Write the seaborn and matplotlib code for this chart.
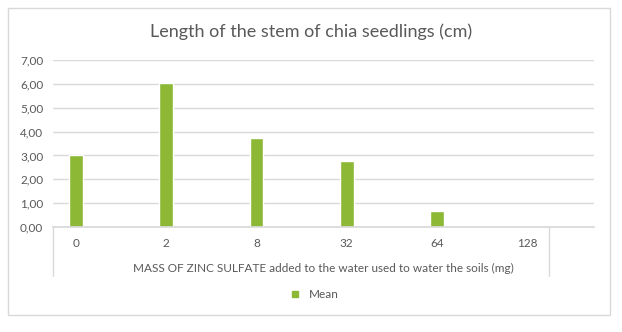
import pandas as pd
import seaborn as sns
import matplotlib.pyplot as plt
from matplotlib.patches import Rectangle
from matplotlib.lines import Line2D

# data
doses = ['0', '2', '8', '32', '64', '128']
mean_length = [3.00, 6.03, 3.72, 2.77, 0.69, 0.0]
y_ticks = [0, 1, 2, 3, 4, 5, 6, 7]

df = pd.DataFrame({'dose': doses, 'mean': mean_length})

sns.set_theme(style='white')
plt.rcParams['font.family'] = ['Lato', 'DejaVu Sans']

grey = '#595959'
green = '#8cb836'
line_col = '#d9d9d9'

fig = plt.figure(figsize=(6.22, 3.32), dpi=100)
fig.patches.append(Rectangle((8 / 622, 1 - 315 / 332), 602 / 622, 307 / 332,
                             transform=fig.transFigure, fill=False,
                             edgecolor=line_col, linewidth=1))
ax = fig.add_axes([53 / 622, 1 - 227 / 332, 541 / 622, 167 / 332])

sns.barplot(data=df, x='dose', y='mean', order=doses, color=green,
            width=0.155, saturation=1, ax=ax)

ax.set_ylim(0, 7)
ax.set_xlim(-0.255, 5.74)
ax.set_yticks(y_ticks)
ax.set_yticklabels([f'{v:.2f}'.replace('.', ',') for v in y_ticks])
ax.yaxis.grid(True, color=line_col, linewidth=1)
ax.set_axisbelow(True)
for s in ['left', 'right', 'top']:
    ax.spines[s].set_visible(False)
ax.spines['bottom'].set_color(line_col)
ax.tick_params(axis='both', length=0, colors=grey, labelsize=8.5)
ax.tick_params(axis='x', pad=8)
ax.tick_params(axis='y', pad=7)
ax.set_ylabel('')
ax.set_xlabel('MASS OF ZINC SULFATE added to the water used to water the soils (mg)',
              color=grey, fontsize=8.5, labelpad=10)

# divider lines of the category table below the axis
for xv in [-0.255, 5.244]:
    ax.plot([xv, xv], [0, -49 / 167], color=line_col, linewidth=1,
            transform=ax.get_xaxis_transform(), clip_on=False)

# title is centred on the chart box, not on the plot area
fig.text(0.5, 1 - 32 / 332, 'Length of the stem of chia seedlings (cm)',
         color=grey, fontsize=13, ha='center', va='center')

handle = Line2D([], [], marker='s', linestyle='', color=green, markersize=5)
fig.legend([handle], ['Mean'], loc='center', bbox_to_anchor=(0.5, 1 - 295 / 332),
           frameon=False, fontsize=8.5, labelcolor=grey, handletextpad=0.1)

fig.savefig('out.png', dpi=100)
